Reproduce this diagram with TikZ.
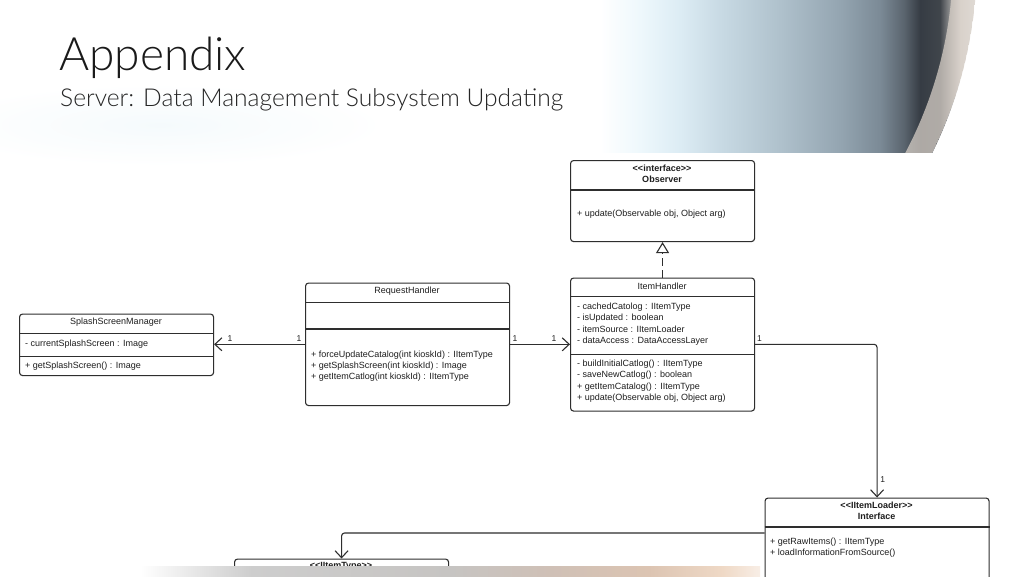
\documentclass[tikz,border=0pt]{standalone}
\usepackage{fontspec}
\setmainfont{Liberation Sans}[Ligatures=NoCommon]
\newfontfamily\titlefont{Lato Light}
\usetikzlibrary{arrows.meta}
\definecolor{ln}{HTML}{2E2E2E}
\definecolor{tx}{HTML}{1E1E1E}
\definecolor{sA}{HTML}{EEF8FC}
\definecolor{sB}{HTML}{DCECF4}
\definecolor{sC}{HTML}{C8DAE4}
\definecolor{sD}{HTML}{AFC1CC}
\definecolor{sE}{HTML}{94A5B1}
\definecolor{sF}{HTML}{7B8A96}
\definecolor{sG}{HTML}{5A646E}
\definecolor{sH}{HTML}{363C44}
\definecolor{sI}{HTML}{40454B}
\definecolor{sJ}{HTML}{E0DCD8}
\definecolor{rim}{HTML}{D6CEC6}
\definecolor{glow}{HTML}{EAF6FA}
\definecolor{bA}{HTML}{CDCDCD}
\definecolor{bB}{HTML}{C6C4C2}
\definecolor{bC}{HTML}{CFC0B6}
\definecolor{bD}{HTML}{DCC4B2}
\definecolor{bE}{HTML}{EFD9C6}
\definecolor{bF}{HTML}{F8EEE6}
\definecolor{ttl}{HTML}{1A1A1A}
\definecolor{sttl}{HTML}{262626}
\pgfdeclarehorizontalshading{sphereshade}{100bp}{color(0bp)=(white); color(25bp)=(white); color(30bp)=(sA); color(35bp)=(sB); color(40bp)=(sC); color(47.5bp)=(sD); color(55bp)=(sE); color(60bp)=(sF); color(63bp)=(sG); color(65bp)=(sH); color(67.5bp)=(sI); color(70bp)=(sJ); color(72bp)=(white); color(100bp)=(white)}
\pgfdeclarehorizontalshading{bandshade}{100bp}{color(0bp)=(white); color(25bp)=(white); color(34bp)=(bA); color(50bp)=(bB); color(58bp)=(bC); color(66bp)=(bD); color(72bp)=(bE); color(75bp)=(bF); color(100bp)=(bF)}
\newcommand{\stereo}[1]{\textless\kern0pt\textless\kern0pt#1\kern0pt\textgreater\kern0pt\textgreater}
\tikzset{
  cls/.style={draw=ln, line width=1.1pt, rounded corners=3pt, fill=white, inner sep=0pt, anchor=north west},
  divl/.style={draw=ln, line width=1.1pt},
  txt/.style={font=\fontsize{9}{11}\selectfont, inner sep=0pt, text=tx},
  txl/.style={txt, anchor=west},
  txb/.style={txt, font=\bfseries\fontsize{9}{11}\selectfont},
  mult/.style={font=\fontsize{8.5}{10}\selectfont, inner sep=0pt, text=tx},
  assoc/.style={draw=ln, line width=1.1pt, -{Straight Barb[length=7pt,width=13pt]}},
  realize/.style={draw=ln, line width=1.1pt, dash pattern=on 8pt off 4pt, -{Triangle[open,length=11pt,width=13pt,fill=white]}}
}
\begin{document}
\begin{tikzpicture}[x=1pt,y=-1pt]
\useasboundingbox (0,0) rectangle (1024,576);
\clip (0,0) rectangle (1024,576);
% background
\fill[white] (0,0) rectangle (1024,576);
\shade[inner color=glow, outer color=white, opacity=0.45] (160,125) ellipse [x radius=220, y radius=40];
\begin{scope}
  \clip (600,0) rectangle (1000,152);
  \clip (540,-40) circle [radius=437];
  \shade[shading=sphereshade] (600,0) rectangle (1000,152);
  \draw[line width=24pt, color=rim, opacity=0.75] (540,-40) circle [radius=425];
\end{scope}
% titles
\node[anchor=base west, inner sep=0pt, text=ttl, font=\titlefont\fontsize{46}{46}\selectfont] (title) at (59,70) {Appendix};
\node[anchor=base west, inner sep=0pt, text=sttl, font=\titlefont\fontsize{24.6}{25}\selectfont] (subtitle) at (60,106) {Server: Data Management Subsystem Updating};
% Observer
\node[cls, minimum width=184pt, minimum height=81pt] (obs) at (570,160) {};
\draw[divl] (obs.west |- 0,190) -- (obs.east |- 0,190);
\node[txb] (obs-st) at (662,168.3) {\stereo{interface}};
\node[txb] (obs-nm) at (662,179.5) {Observer};
\node[txl] (obs-m1) at (577,214.3) {+ update(Observable obj, Object arg)};
% ItemHandler
\node[cls, minimum width=184pt, minimum height=133pt] (ih) at (570,277.5) {};
\draw[divl] (ih.west |- 0,296.5) -- (ih.east |- 0,296.5);
\draw[divl] (ih.west |- 0,354.5) -- (ih.east |- 0,354.5);
\node[txt] (ih-nm) at (662,286.5) {ItemHandler};
\node[txl] (ih-a1) at (577,307) {- cachedCatolog : IItemType};
\node[txl] (ih-a2) at (577,318.3) {- isUpdated : boolean};
\node[txl] (ih-a3) at (577,329.7) {- itemSource : IItemLoader};
\node[txl] (ih-a4) at (577,341) {- dataAccess : DataAccessLayer};
\node[txl] (ih-m1) at (577,364.5) {- buildInitialCatlog() : IItemType};
\node[txl] (ih-m2) at (577,375.5) {- saveNewCatlog() : boolean};
\node[txl] (ih-m3) at (577,386.7) {+ getItemCatalog() : IItemType};
\node[txl] (ih-m4) at (577,397.7) {+ update(Observable obj, Object arg)};
% RequestHandler
\node[cls, minimum width=204pt, minimum height=122.5pt] (rh) at (305,282.5) {};
\draw[divl] (rh.west |- 0,302.3) -- (rh.east |- 0,302.3);
\draw[divl] (rh.west |- 0,329) -- (rh.east |- 0,329);
\node[txt] (rh-nm) at (407,291.5) {RequestHandler};
\node[txl] (rh-m1) at (311,355.5) {+ forceUpdateCatalog(int kioskId) : IItemType};
\node[txl] (rh-m2) at (311,366.5) {+ getSplashScreen(int kioskId) : Image};
\node[txl] (rh-m3) at (311,377.5) {+ getItemCatlog(int kioskId) : IItemType};
% SplashScreenManager
\node[cls, minimum width=194pt, minimum height=61.5pt] (ssm) at (19,313.5) {};
\draw[divl] (ssm.west |- 0,333.3) -- (ssm.east |- 0,333.3);
\draw[divl] (ssm.west |- 0,356.5) -- (ssm.east |- 0,356.5);
\node[txt] (ssm-nm) at (116,322.3) {SplashScreenManager};
\node[txl] (ssm-a1) at (25,344.3) {- currentSplashScreen : Image};
\node[txl] (ssm-m1) at (25,366.5) {+ getSplashScreen() : Image};
% IItemLoader
\node[cls, minimum width=224pt, minimum height=122pt] (il) at (764.5,497.5) {};
\draw[divl] (il.west |- 0,527) -- (il.east |- 0,527);
\node[txb] (il-st) at (876.5,505) {\stereo{IItemLoader}};
\node[txb] (il-nm) at (876.5,516.7) {Interface};
\node[txl] (il-m1) at (770,541.7) {+ getRawItems() : IItemType};
\node[txl] (il-m2) at (770,552.7) {+ loadInformationFromSource()};
% IItemType
\node[cls, minimum width=214pt, minimum height=60pt] (itype) at (234,558.5) {};
\node[txb] (itype-st) at (341,566) {\stereo{IItemType}};
% connectors
\draw[realize] (ih.north) -- (obs.south);
\draw[assoc] (rh.west |- 0,344.3) -- (ssm.east |- 0,344.3);
\draw[assoc] (rh.east |- 0,344.3) -- (ih.west |- 0,344.3);
\draw[assoc, rounded corners=3pt] (ih.east |- 0,344.3) -| (il.north);
\draw[assoc, rounded corners=3pt] (il.west |- 0,533) -| (itype.north);
% multiplicities
\node[mult] (mu1) at (230,338.3) {1};
\node[mult] (mu2) at (299,338.3) {1};
\node[mult] (mu3) at (515,338.3) {1};
\node[mult] (mu4) at (554,338.3) {1};
\node[mult] (mu5) at (759.5,338.3) {1};
\node[mult] (mu6) at (882.7,479.3) {1};
% bottom band
\shade[shading=bandshade] (140,566.7) rectangle (760,577);
\end{tikzpicture}
\end{document}
